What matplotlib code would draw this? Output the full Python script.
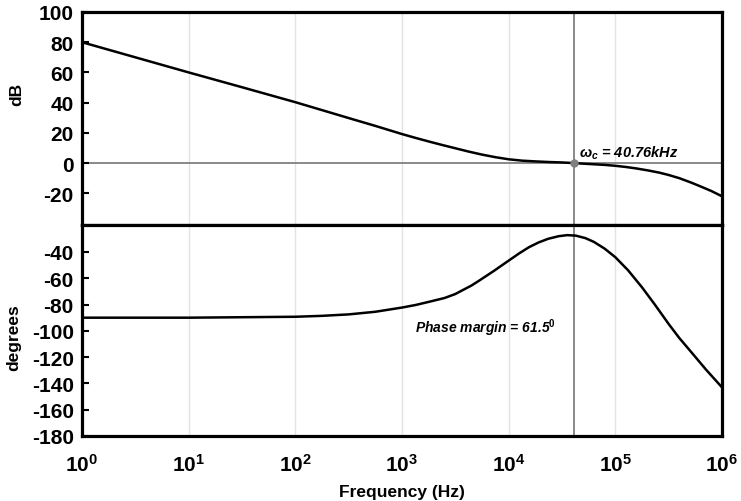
import numpy as np
import matplotlib
matplotlib.use("Agg")
import matplotlib.pyplot as plt
from matplotlib.ticker import FixedLocator, FuncFormatter, NullLocator

plt.rcParams['font.family'] = ['Liberation Sans', 'DejaVu Sans']
plt.rcParams['mathtext.fontset'] = 'custom'
plt.rcParams['mathtext.rm'] = 'Liberation Sans:bold'
plt.rcParams['mathtext.bf'] = 'Liberation Sans:bold'
plt.rcParams['mathtext.it'] = 'Liberation Sans:italic:bold'

# ---- data ----
mag_logf = [0, 0.5, 1, 1.5, 2, 2.5, 2.75, 3, 3.125, 3.25, 3.375, 3.5, 3.625,
            3.75, 3.875, 4, 4.125, 4.25, 4.375, 4.5, 4.61, 4.7, 4.8, 4.9, 5,
            5.1, 5.2, 5.3, 5.41, 5.5, 5.6, 5.71, 5.8, 5.9, 6]
mag_db = [80, 70, 60, 50.2, 40.3, 29.8, 24.6, 19.2, 16.7, 14.3, 12.0, 9.8,
          7.6, 5.6, 3.9, 2.5, 1.6, 1.1, 0.7, 0.4, 0, -0.4, -0.8, -1.2, -1.8,
          -2.6, -3.6, -4.8, -6.3, -7.9, -10, -12.9, -15.5, -18.5, -22]

ph_logf = [0, 1, 2, 2.25, 2.5, 2.75, 3, 3.13, 3.26, 3.4, 3.5, 3.57, 3.65,
           3.72, 3.86, 4, 4.1, 4.19, 4.28, 4.37, 4.47, 4.55, 4.63, 4.72, 4.8,
           4.9, 5, 5.12, 5.25, 5.37, 5.5, 5.6, 5.71, 5.85, 6]
ph_deg = [-90, -90, -89.3, -88.6, -87.5, -85.5, -82.3, -80.3, -77.8, -75.0,
          -72.0, -69.0, -65.6, -62, -54.5, -46.6, -41, -36.4, -32.8, -30,
          -28, -27.2, -27.6, -29.5, -32.4, -37.5, -44, -54, -66.9, -80,
          -94.8, -105.5, -116, -129.5, -143]

fc_hz = 40760
mag_yticks = [100, 80, 60, 40, 20, 0, -20]
ph_yticks = [-40, -60, -80, -100, -120, -140, -160, -180]
decades = [0, 1, 2, 3, 4, 5, 6]

mag_f = [10 ** v for v in mag_logf]
ph_f = [10 ** v for v in ph_logf]
dec_f = [10 ** d for d in decades]

fig = plt.figure(figsize=(7.41, 5.02), dpi=100)
L, R = 82 / 741, 722 / 741
y_top, y_mid, y_bot = 1 - 13 / 502, 1 - 226 / 502, 1 - 437 / 502
ax1 = fig.add_axes([L, y_mid, R - L, y_top - y_mid])
ax2 = fig.add_axes([L, y_bot, R - L, y_mid - y_bot], sharex=ax1)

grid_c = '#e3e3e3'
ref_c = '#808080'
for ax in (ax1, ax2):
    ax.set_xscale('log')
    ax.set_xlim(1, 1e6)
    for f in dec_f[1:-1]:
        ax.axvline(f, color=grid_c, lw=1.0, zorder=0)
    ax.axvline(fc_hz, color=ref_c, lw=1.3, zorder=1)
    for s in ax.spines.values():
        s.set_linewidth(2.3)
        s.set_color('black')
    ax.tick_params(axis='y', direction='in', length=5, width=1.5,
                   labelsize=15, pad=6)
    ax.xaxis.set_minor_locator(NullLocator())

# magnitude
ax1.axhline(0, color=ref_c, lw=1.3, zorder=1)
ax1.plot(mag_f, mag_db, color='black', lw=1.8, zorder=3,
         solid_joinstyle='round')
ax1.plot([fc_hz], [0], 'o', color=ref_c, ms=5, zorder=4)
ax1.set_ylim(-41, 100)
ax1.set_yticks(mag_yticks)
ax1.set_yticklabels([str(v) for v in mag_yticks], fontweight='bold')
ax1.tick_params(axis='x', which='both', length=0, labelbottom=False)
ax1.set_ylabel('dB', fontsize=12.5, fontweight='bold')
ax1.yaxis.set_label_coords(-0.09, 0.62)
ax1.text(fc_hz * 1.13, 1.3, r'$\omega_c$ = 40.76kHz', fontsize=10.5,
         fontweight='bold', fontstyle='italic', ha='left', va='bottom')

# phase
ax2.plot(ph_f, ph_deg, color='black', lw=1.8, zorder=3,
         solid_joinstyle='round')
ax2.set_ylim(-180, -19.5)
ax2.set_yticks(ph_yticks)
ax2.set_yticklabels([str(v) for v in ph_yticks], fontweight='bold')
ax2.xaxis.set_major_locator(FixedLocator(dec_f))
ax2.xaxis.set_major_formatter(FuncFormatter(
    lambda v, p: r'$\mathrm{10^{%d}}$' % int(round(np.log10(v)))))
ax2.tick_params(axis='x', which='both', length=0, labelsize=15, pad=12)
ax2.set_ylabel('degrees', fontsize=12.5, fontweight='bold')
ax2.yaxis.set_label_coords(-0.095, 0.47)
ax2.set_xlabel('Frequency (Hz)', fontsize=12.5, fontweight='bold', labelpad=7)
ax2.text(10 ** 3.12, -97, r'Phase margin = 61.5$^{\mathit{0}}$',
         fontsize=10, fontweight='bold', fontstyle='italic',
         ha='left', va='center')

fig.savefig('out.png', dpi=100)
